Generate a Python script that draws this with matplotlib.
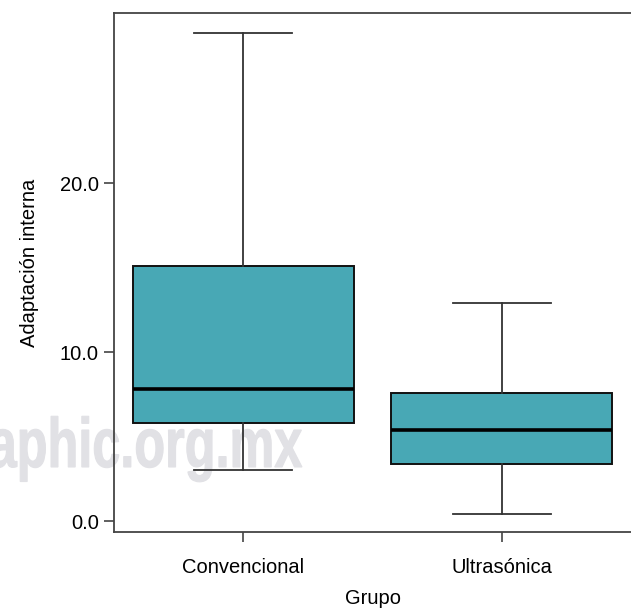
import matplotlib
matplotlib.use("Agg")
import matplotlib.pyplot as plt
from matplotlib.textpath import TextPath
from matplotlib.patches import PathPatch
from matplotlib.font_manager import FontProperties
from matplotlib.transforms import Affine2D, IdentityTransform

# ---------------------------------------------------------------
# DATA
# ---------------------------------------------------------------
grupos = ["Convencional", "Ultrasónica"]
whislo = [3.0, 0.4]
q1 = [5.8, 3.4]
med = [7.8, 5.4]
q3 = [15.1, 7.55]
whishi = [28.9, 12.9]
yticks = [0.0, 10.0, 20.0]
watermark = "aphic.org.mx"

FILL = "#48a8b5"
plt.rcParams["font.family"] = ["Liberation Sans", "DejaVu Sans"]

fig = plt.figure(figsize=(6.31, 6.15), dpi=100)
ax = fig.add_axes([114 / 631, 1 - 532 / 615, 1 - 114 / 631, (532 - 13) / 615])
ax.set_facecolor("none")

# watermark, condensed bold, behind the axes
tp = TextPath((0, 0), watermark, size=70,
              prop=FontProperties(family="Liberation Sans", weight="bold"))
ext = tp.get_extents()
sx = 0.72
tr = Affine2D().scale(sx, 1.0).translate(302 - ext.x1 * sx, 615 - 467)
wm = PathPatch(tr.transform_path(tp), transform=IdentityTransform(),
               facecolor="#e1e1e5", edgecolor="#e1e1e5", linewidth=0.8,
               zorder=-5)
fig.patches.append(wm)

stats = []
for i, g in enumerate(grupos):
    stats.append({"label": g, "whislo": whislo[i], "q1": q1[i], "med": med[i],
                  "q3": q3[i], "whishi": whishi[i], "fliers": []})

ax.bxp(stats, positions=[1, 2], widths=0.853, patch_artist=True,
       showfliers=False,
       boxprops=dict(facecolor=FILL, edgecolor="#111111", linewidth=1.4),
       medianprops=dict(color="black", linewidth=2.6),
       whiskerprops=dict(color="#333333", linewidth=1.3),
       capprops=dict(color="#333333", linewidth=1.3),
       capwidths=0.38)

ax.set_xlim(0.5, 2.5)
ax.set_ylim(-0.65, 30.06)
ax.set_yticks(yticks)
ax.set_yticklabels([f"{v:.1f}" for v in yticks])
ax.set_xticks([1, 2])
ax.set_xticklabels(grupos)

for s in ["left", "top", "bottom"]:
    ax.spines[s].set_color("#444444")
    ax.spines[s].set_linewidth(1.3)
ax.spines["right"].set_visible(False)

ax.tick_params(axis="both", direction="out", length=7, width=1.2,
               color="#444444", labelsize=14.5, labelcolor="black")
ax.tick_params(axis="x", pad=12)
ax.tick_params(axis="y", pad=4)

ax.set_xlabel("Grupo", fontsize=14.5, labelpad=8)
ax.set_ylabel("Adaptación interna", fontsize=14.5)
ax.yaxis.set_label_coords(-0.146, 0.518)

fig.savefig("out.png", dpi=100)
